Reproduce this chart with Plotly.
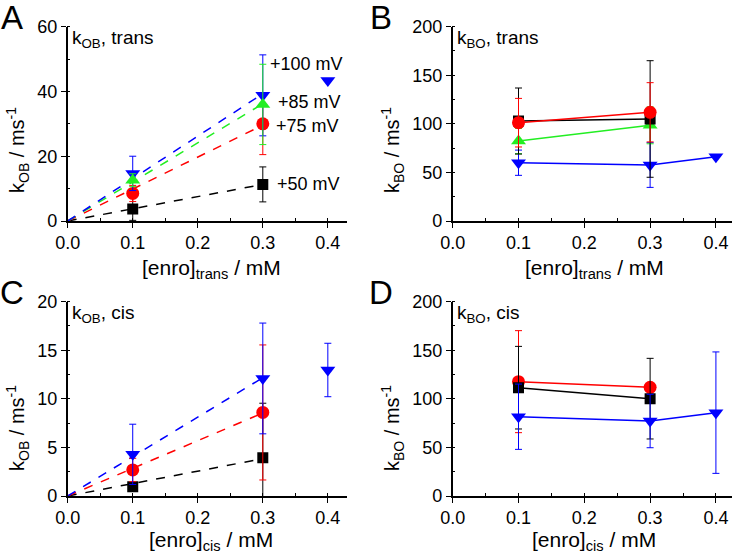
import plotly.graph_objects as go

# ---------------- data ----------------
conc = [0.1, 0.3]
conc_b = [0.1, 0.3, 0.4]

# Panel A: k_OB trans
A_50 = [3.7, 11.3];   A_50_err = [3.5, 5.4]
A_75 = [8.5, 30.0];   A_75_err = [2.5, 9.5]
A_85 = [12.6, 36.0];  A_85_err = [2.0, 12.4]
A_100 = [14.7, 38.8, 43.4]; A_100_err = [5.3, 12.5, 0]
A_fit_end = {"50": 11.3, "75": 29.6, "85": 36.2, "100": 39.3}   # dashed fit lines at 0.3 mM

# Panel B: k_BO trans
B_50 = [102.9, 105.0];  B_50_err = [34, 60]
B_75 = [101.2, 111.9];  B_75_err = [25, 30.5]
B_85 = [82.3, 98.5];    B_85_err = [13, 19]
B_100 = [60.0, 57.6, 66.2]; B_100_err = [13, 23, 0]

# Panel C: k_OB cis
C_50 = [0.96, 3.95];  C_50_err = [0.4, 5.6]
C_75 = [2.68, 8.6];   C_75_err = [1.2, 6.95]
C_100 = [4.29, 12.1, 12.97]; C_100_err = [3.1, 5.7, 2.75]
C_fit_end = {"50": 3.84, "75": 8.54, "100": 12.18}

# Panel D: k_BO cis
D_50 = [111.5, 100.2];  D_50_err = [42.5, 41.5]
D_75 = [117.7, 111.9];  D_75_err = [52.5, 0]
D_100 = [81.6, 77.2, 85.8]; D_100_err = [33.6, 27.5, 62.5]

labels_mV = ["+50 mV", "+75 mV", "+85 mV", "+100 mV"]
label_pos_A = [(0.318, 11.4), (0.317, 29.2), (0.32, 36.7), (0.308, 48.6)]

xticks = [0.0, 0.1, 0.2, 0.3, 0.4]

# ---------------- style ----------------
BLACK = "#000000"
RED = "#ff0000"
GREEN = "#22ee22"
BLUE = "#0000ff"
FONT = "Liberation Sans, Arial, sans-serif"

sty = {
    "50": dict(color=BLACK, symbol="square", size=11),
    "75": dict(color=RED, symbol="circle", size=13),
    "85": dict(color=GREEN, symbol="triangle-up", size=13),
    "100": dict(color=BLUE, symbol="triangle-down", size=13),
}

W, H = 732, 555
def px(x): return x / W
def py(y): return 1 - y / H

fig = go.Figure()

def pts(xa, ya, xs, ys, errs, key, mode="markers"):
    s = sty[key]
    fig.add_trace(go.Scatter(
        x=xs, y=ys, xaxis=xa, yaxis=ya, mode=mode,
        marker=dict(color=s["color"], symbol=s["symbol"], size=s["size"], line=dict(width=0)),
        line=dict(color=s["color"], width=1.5),
        error_y=dict(type="data", array=errs, visible=True, color=s["color"], thickness=1, width=3.5),
        showlegend=False, hoverinfo="skip"))

def fit(xa, ya, end, key):
    fig.add_trace(go.Scatter(
        x=[0, 0.3], y=[0, end], xaxis=xa, yaxis=ya, mode="lines",
        line=dict(color=sty[key]["color"], width=1.5, dash="dash"),
        showlegend=False, hoverinfo="skip"))

# Panel A
for k in ["50", "75", "85", "100"]:
    fit("x", "y", A_fit_end[k], k)
pts("x", "y", conc, A_50, A_50_err, "50")
pts("x", "y", conc, A_75, A_75_err, "75")
pts("x", "y", conc_b, A_100, A_100_err, "100")
pts("x", "y", conc, A_85, A_85_err, "85")

# Panel B
pts("x2", "y2", conc_b, B_100, B_100_err, "100", "lines+markers")
pts("x2", "y2", conc, B_85, B_85_err, "85", "lines+markers")
pts("x2", "y2", conc, B_50, B_50_err, "50", "lines+markers")
pts("x2", "y2", conc, B_75, B_75_err, "75", "lines+markers")

# Panel C
for k in ["50", "75", "100"]:
    fit("x3", "y3", C_fit_end[k], k)
pts("x3", "y3", conc, C_50, C_50_err, "50")
pts("x3", "y3", conc, C_75, C_75_err, "75")
pts("x3", "y3", conc_b, C_100, C_100_err, "100")

# Panel D
pts("x4", "y4", conc, D_75, D_75_err, "75", "lines+markers")
pts("x4", "y4", conc, D_50, D_50_err, "50", "lines+markers")
pts("x4", "y4", conc_b, D_100, D_100_err, "100", "lines+markers")

xdomL = [px(67.7), px(346.7)]
xdomR = [px(452.7), px(731.7)]
ydomT = [py(221), py(26.7)]
ydomB = [py(496), py(301.7)]

def xax(dom, anchor, rng):
    return dict(domain=dom, anchor=anchor, range=[0, rng], tickvals=xticks,
                tickformat=".1f", showline=True, linecolor="black", linewidth=1.5,
                ticks="outside", ticklen=5, tickwidth=1.2, tickcolor="black",
                minor=dict(dtick=0.05, ticks="inside", ticklen=3, tickcolor="black", tickwidth=1, showgrid=False),
                showgrid=False, zeroline=False, automargin=False,
                tickfont=dict(family=FONT, size=18, color="black"))

def yax(dom, anchor, rng, dt):
    return dict(domain=dom, anchor=anchor, range=[0, rng], dtick=dt, tick0=0,
                showline=True, linecolor="black", linewidth=1.5,
                ticks="outside", ticklen=5, tickwidth=1.2, tickcolor="black",
                minor=dict(dtick=dt / 2, ticks="inside", ticklen=3, tickcolor="black", tickwidth=1, showgrid=False),
                showgrid=False, zeroline=False, automargin=False,
                tickfont=dict(family=FONT, size=18, color="black"))

fig.update_layout(
    width=W, height=H, margin=dict(l=0, r=0, t=0, b=0, pad=0, autoexpand=False),
    paper_bgcolor="white", plot_bgcolor="white",
    xaxis=xax(xdomL, "y", 0.429), yaxis=yax(ydomT, "x", 60, 20),
    xaxis2=xax(xdomR, "y2", 0.424), yaxis2=yax(ydomT, "x2", 200, 50),
    xaxis3=xax(xdomL, "y3", 0.429), yaxis3=yax(ydomB, "x3", 20, 5),
    xaxis4=xax(xdomR, "y4", 0.424), yaxis4=yax(ydomB, "x4", 200, 50),
)

ann = []
def A(text, x, y, size=18, xanchor="center", yanchor="middle", angle=0, xref="paper", yref="paper"):
    ann.append(dict(text=text, x=x, y=y, xref=xref, yref=yref, showarrow=False,
                    xanchor=xanchor, yanchor=yanchor, textangle=angle,
                    font=dict(family=FONT, size=size, color="black")))

# panel letters
A("A", px(12), py(17), size=33)
A("B", px(381), py(17), size=33)
A("C", px(12), py(292), size=33)
A("D", px(381), py(292), size=33)

# inner titles
A("k<sub>OB</sub>, trans", px(70), py(25), size=19, xanchor="left", yanchor="top")
A("k<sub>BO</sub>, trans", px(455), py(25), size=19, xanchor="left", yanchor="top")
A("k<sub>OB</sub>, cis", px(70), py(300), size=19, xanchor="left", yanchor="top")
A("k<sub>BO</sub>, cis", px(455), py(300), size=19, xanchor="left", yanchor="top")

# axis titles
A("k<sub>OB</sub> / ms<sup>-1</sup>", px(17), py(150), size=20, angle=-90)
A("k<sub>BO</sub> / ms<sup>-1</sup>", px(392), py(150), size=20, angle=-90)
A("k<sub>OB</sub> / ms<sup>-1</sup>", px(17), py(428), size=20, angle=-90)
A("k<sub>BO</sub> / ms<sup>-1</sup>", px(392), py(428), size=20, angle=-90)
A("[enro]<sub>trans</sub> / mM", px(211), py(269), size=21)
A("[enro]<sub>trans</sub> / mM", px(594), py(269), size=21)
A("[enro]<sub>cis</sub> / mM", px(211), py(541), size=21)
A("[enro]<sub>cis</sub> / mM", px(594), py(541), size=21)

# voltage labels (panel A)
for lab, (lx, ly) in zip(labels_mV, label_pos_A):
    A(lab, lx, ly, size=18, xanchor="left", xref="x", yref="y")

fig.update_layout(annotations=ann)
fig.write_html("out.html", config={"displayModeBar": False},
               post_script="document.body.style.margin='0';document.body.style.padding='0';document.body.style.overflow='hidden';")
